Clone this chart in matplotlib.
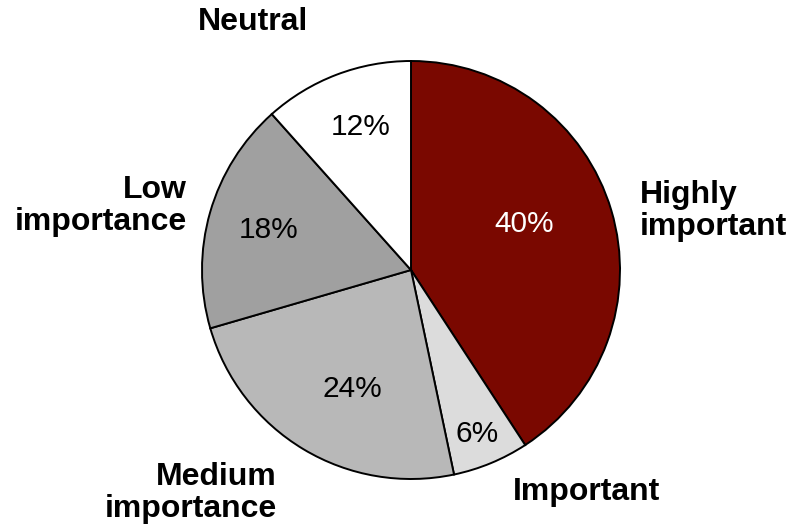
import matplotlib
matplotlib.use("Agg")
import matplotlib.pyplot as plt

categories = ["Highly important", "Important", "Medium importance", "Low importance", "Neutral"]
shares = [40.8, 5.9, 23.8, 17.9, 11.6]
pct_labels = ["40%", "6%", "24%", "18%", "12%"]
colors = ["#7a0800", "#dcdcdc", "#b8b8b8", "#a0a0a0", "#ffffff"]

plt.rcParams['font.family'] = ['Liberation Sans', 'DejaVu Sans']

W, H = 803, 524
fig = plt.figure(figsize=(W / 100, H / 100), dpi=100)
ax = fig.add_axes([0, 0, 1, 1])
ax.set_xlim(0, W)
ax.set_ylim(0, H)
ax.set_aspect('equal')
ax.axis('off')

def P(x, y):
    return x, H - y

cx, cy = P(411, 270)
ax.pie(shares, colors=colors, startangle=90, counterclock=False,
       center=(cx, cy), radius=209,
       wedgeprops=dict(edgecolor='black', linewidth=1.4))
ax.set_xlim(0, W)
ax.set_ylim(0, H)

pct_pos = [(524, 224), (477, 434), (352, 389), (269, 230), (361, 127)]
pct_colors = ["white", "black", "black", "black", "black"]
for lab, (x, y), c in zip(pct_labels, pct_pos, pct_colors):
    ax.text(*P(x, y), lab, ha='center', va='center', fontsize=21.5, color=c)

label_text = ["Highly\nimportant", "Important", "Medium\nimportance", "Low\nimportance", "Neutral"]
label_pos = [(640, 211, 'left'), (587, 492, 'center'), (277, 493, 'right'),
             (187, 206, 'right'), (253, 22, 'center')]
for t, (x, y, ha) in zip(label_text, label_pos):
    ax.text(*P(x, y), t, ha=ha, va='center', fontsize=23, fontweight='bold',
            linespacing=1.13, color='black')

fig.savefig("out.png", dpi=100)
